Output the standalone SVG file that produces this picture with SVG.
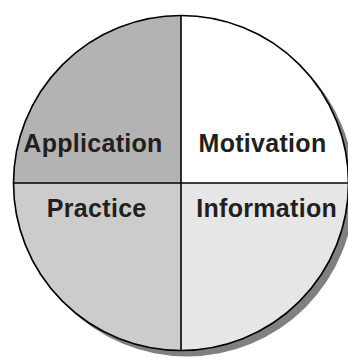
<svg xmlns="http://www.w3.org/2000/svg" width="348" height="358" viewBox="0 0 348 358">
<style>
.q{stroke:none}
.lbl{font-family:"Liberation Sans",Arial,sans-serif;font-weight:bold;font-size:25px;letter-spacing:0.3px;fill:#231f20;text-anchor:middle}
.ln{stroke:#000;stroke-width:1.6;fill:none}
</style>
<rect width="348" height="358" fill="#fff"/>
<circle cx="187" cy="189" r="167.5" fill="#808080"/>
<g id="application"><path class="q" d="M181 183 L181 15.5 A167.5 167.5 0 0 0 13.5 183 Z" fill="#b3b3b3"/><text class="lbl" x="93" y="151.7">Application</text></g>
<g id="motivation"><path class="q" d="M181 183 L181 15.5 A167.5 167.5 0 0 1 348.5 183 Z" fill="#ffffff"/><text class="lbl" x="262.5" y="151.7">Motivation</text></g>
<g id="practice"><path class="q" d="M181 183 L13.5 183 A167.5 167.5 0 0 0 181 350.5 Z" fill="#cccccc"/><text class="lbl" x="96.7" y="216.7">Practice</text></g>
<g id="information"><path class="q" d="M181 183 L348.5 183 A167.5 167.5 0 0 1 181 350.5 Z" fill="#e6e6e6"/><text class="lbl" x="266.7" y="216.7">Information</text></g>
<g id="connectors">
<circle class="ln" cx="181" cy="183" r="167.5"/>
<line class="ln" x1="181" y1="15.5" x2="181" y2="350.5"/>
<line class="ln" x1="13.5" y1="183" x2="348.5" y2="183"/>
</g>
</svg>
